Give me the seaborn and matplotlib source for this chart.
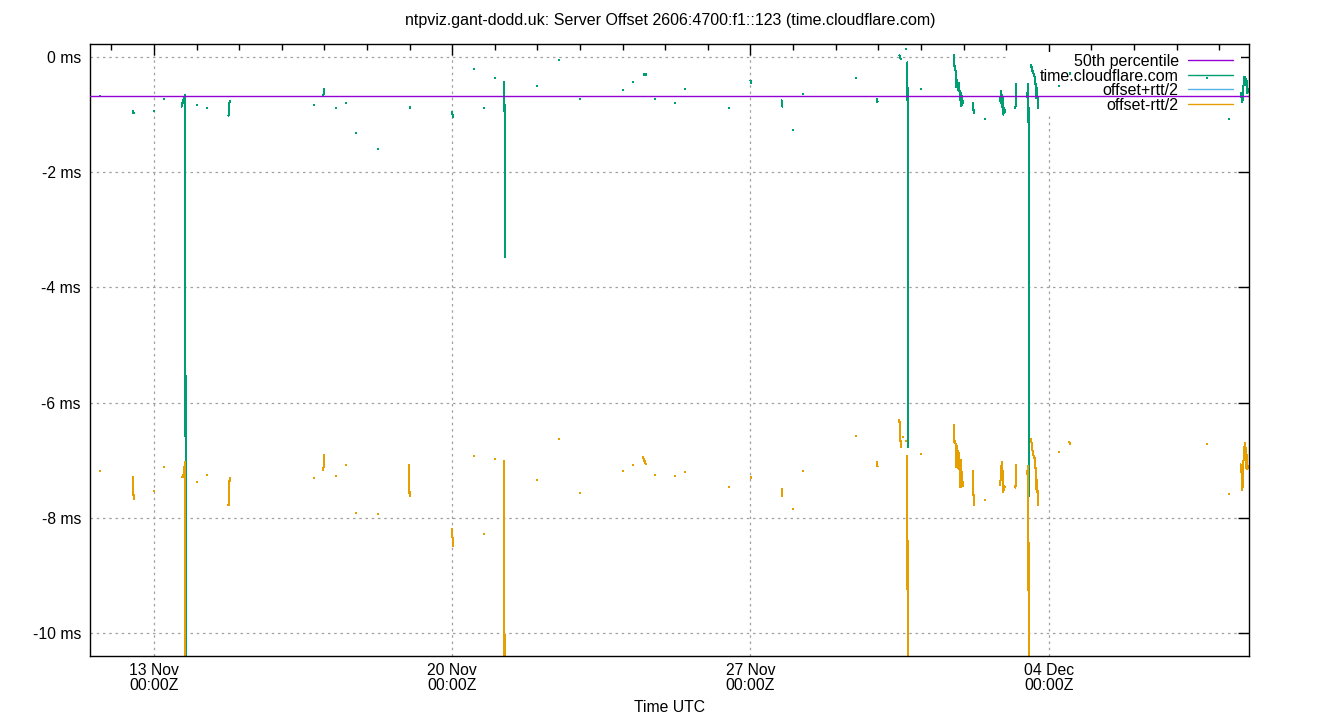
import pandas as pd
import seaborn as sns
import matplotlib.pyplot as plt
import matplotlib.dates as mdates
from matplotlib.ticker import FixedLocator
from matplotlib.lines import Line2D
from matplotlib.patches import Rectangle

title = "ntpviz.gant-dodd.uk: Server Offset 2606:4700:f1::123 (time.cloudflare.com)"
start = pd.Timestamp("2023-11-13 00:00")

# days after 13 Nov 00:00Z; None = gap in the samples
t_day = [
    -1.258, None,
    -0.502, -0.477, None,
    -0.007, None,
    0.244, None,
    0.646, 0.669, 0.692, 0.716, 0.735, 0.751, None,
    1.002, None,
    1.254, None,
    1.749, 1.775, None,
    3.749, None,
    3.974, 4.000, None,
    4.263, None,
    4.498, None,
    4.732, None,
    5.254, None,
    5.974, 6.000, None,
    6.993, 7.019, None,
    7.505, None,
    7.739, None,
    8.000, None,
    8.223, 8.246, None,
    8.991, None,
    9.505, None,
    10.000, None,
    11.009, None,
    11.244, None,
    11.479, 11.540, None,
    11.756, None,
    12.235, None,
    12.469, None,
    13.486, None,
    14.000, 14.012, None,
    14.730, 14.746, None,
    14.991, None,
    15.225, None,
    16.486, None,
    16.965, 16.981, None,
    17.495, 17.528, None,
    17.568, None,
    17.638, None,
    17.683, 17.707, None,
    17.993, None,
    18.779, 18.789, 18.822, 18.831, 18.854, 18.873, 18.897, 18.915, 18.934, 18.951, 18.967, 18.979, None,
    19.216, 19.242, None,
    19.502, None,
    19.859, 19.873, 19.887, 19.906, 19.920, 19.934, 19.953, 19.967, None,
    20.218, 20.242, None,
    20.493, 20.509, 20.523, 20.547, None,
    20.587, 20.610, 20.634, 20.662, 20.685, 20.704, 20.728, 20.746, None,
    21.242, None,
    21.479, 21.502, None,
    24.718, None,
    25.242, None,
    25.502, 25.523, 25.545, 25.563, 25.587, 25.615, 25.629, 25.641, 25.657, 25.692,
]

offset_ms = [
    -0.68, None,
    -0.94, -0.98, None,
    -0.94, None,
    -0.73, None,
    -0.86, -0.80, -0.74, -0.68, -0.66, -20.0, None,
    -0.84, None,
    -0.89, None,
    -1.02, -0.76, None,
    -0.84, None,
    -0.67, -0.55, None,
    -0.89, None,
    -0.79, None,
    -1.32, None,
    -1.60, None,
    -0.86, -0.86, None,
    -0.95, -1.04, None,
    -0.21, None,
    -0.89, None,
    -0.37, None,
    -0.43, -3.48, None,
    -0.51, None,
    -0.06, None,
    -0.73, None,
    -0.58, None,
    -0.44, None,
    -0.30, -0.30, None,
    -0.73, None,
    -0.79, None,
    -0.56, None,
    -0.89, None,
    -0.41, -0.46, None,
    -0.75, -0.86, None,
    -1.26, None,
    -0.65, None,
    -0.37, None,
    -0.73, -0.78, None,
    0.03, -0.04, None,
    0.30, None,
    0.14, None,
    -0.09, -6.77, None,
    -0.56, None,
    0.03, -0.18, -0.26, -0.52, -0.40, -0.57, -0.45, -0.75, -0.62, -0.85, -0.68, -0.80, None,
    -0.80, -0.97, None,
    -1.08, None,
    -0.71, -0.80, -0.59, -0.87, -0.70, -1.00, -0.88, -0.95, None,
    -0.89, -0.47, None,
    -0.69, -0.55, -0.46, -7.63, None,
    -0.14, -0.23, -0.26, -0.33, -0.40, -0.71, -0.54, -0.89, None,
    -0.50, None,
    -0.28, -0.28, None,
    -0.37, None,
    -1.08, None,
    -0.62, -0.70, -0.78, -0.57, -0.35, -0.34, -0.49, -0.40, -0.63, -0.55,
]

rtt_ms = [
    13.00, None,
    12.70, 13.38, None,
    13.20, None,
    12.78, None,
    12.88, 13.00, 13.02, 12.88, 12.74, 50.0, None,
    13.08, None,
    12.74, None,
    13.52, 13.10, None,
    12.94, None,
    13.00, 12.72, None,
    12.78, None,
    12.60, None,
    13.20, None,
    12.68, None,
    12.44, 13.54, None,
    14.48, 14.90, None,
    13.44, None,
    14.80, None,
    13.22, None,
    13.16, 53.0, None,
    13.68, None,
    13.16, None,
    13.68, None,
    13.20, None,
    13.30, None,
    13.30, 13.54, None,
    13.06, None,
    12.98, None,
    13.30, None,
    13.16, None,
    13.78, 13.68, None,
    13.50, 13.52, None,
    13.18, None,
    13.08, None,
    12.42, None,
    12.60, 12.66, None,
    12.66, 13.46, None,
    13.80, None,
    13.62, None,
    13.66, 46.5, None,
    12.68, None,
    12.84, 13.04, 12.92, 13.20, 12.70, 13.14, 12.86, 13.44, 12.76, 13.24, 13.04, 13.30, None,
    12.78, 13.62, None,
    13.24, None,
    13.44, 13.02, 13.06, 12.32, 13.18, 13.10, 13.14, 13.04, None,
    13.18, 13.22, None,
    13.10, 13.14, 13.28, 44.7, None,
    12.98, 13.14, 13.28, 13.24, 13.26, 13.58, 13.62, 13.78, None,
    12.70, None,
    12.80, 12.88, None,
    12.70, None,
    13.02, None,
    12.90, 13.00, 13.48, 13.08, 12.90, 12.72, 13.30, 13.00, 13.04, 13.10,
]

p50_ms = -0.68
y_ticks = [0, -2, -4, -6, -8, -10]
x_major = ["2023-11-13", "2023-11-20", "2023-11-27", "2023-12-04"]
labels = ["50th percentile", "time.cloudflare.com", "offset+rtt/2", "offset-rtt/2"]
colors = ["#9400d3", "#009e73", "#56b4e9", "#e69f00"]

assert len(t_day) == len(offset_ms) == len(rtt_ms)

df = pd.DataFrame({"day": t_day, "offset": offset_ms, "rtt": rtt_ms}, dtype=float)
df["seg"] = df["day"].isna().cumsum()
df = df.dropna().copy()
df["time"] = start + pd.to_timedelta(df["day"], unit="D")
df["hi"] = df["offset"] + df["rtt"] / 2
df["lo"] = df["offset"] - df["rtt"] / 2
n = df.groupby("seg")["day"].transform("size")
lines = df[n > 1]
dots = df[n == 1]

sns.set_theme(style="white", rc={
    "axes.edgecolor": "black", "text.color": "black", "axes.labelcolor": "black",
    "xtick.color": "black", "ytick.color": "black", "axes.linewidth": 1.0,
})
plt.rcParams["font.family"] = ["Liberation Sans", "DejaVu Sans"]
plt.rcParams["font.size"] = 11.3

fig = plt.figure(figsize=(13.4, 7.2), dpi=100)
ax = fig.add_axes([90 / 1340, 64 / 720, 1159 / 1340, 612 / 720])

for col, c in zip(["offset", "hi", "lo"], colors[1:]):
    sns.lineplot(data=lines, x="time", y=col, units="seg", estimator=None, sort=False,
                 color=c, lw=0.75, ax=ax, legend=False, zorder=2, antialiased=False)
    sns.scatterplot(data=dots, x="time", y=col, color=c, marker="s", s=2.5,
                    linewidth=0, ax=ax, legend=False, zorder=2)

ax.axhline(p50_ms, color=colors[0], lw=1.0, zorder=3)

ax.set_xlim(start - pd.Timedelta(days=1.502), start + pd.Timedelta(days=25.70))
ax.set_ylim(-10.40, 0.226)

ax.set_yticks(y_ticks, labels=[f"{v} ms" for v in y_ticks])
ax.xaxis.set_major_locator(FixedLocator(mdates.date2num(pd.to_datetime(x_major))))
ax.xaxis.set_minor_locator(mdates.DayLocator())
ax.xaxis.set_major_formatter(mdates.DateFormatter("%d %b\n%H:%MZ"))
ax.tick_params(which="both", direction="in", top=True, right=True, labelsize=11.3)
ax.tick_params(which="major", length=8, width=1, pad=5)
ax.tick_params(axis="y", which="major", pad=6.5)
ax.tick_params(which="minor", length=4, width=1)
for lab in ax.get_xticklabels():
    lab.set_linespacing(1.0)
ax.set_xlabel("Time UTC", fontsize=11.3, labelpad=5)
ax.set_ylabel("")

ax.set_axisbelow(True)
ax.grid(True, which="major", color="#a0a0a0", linestyle=(0, (2, 3)), lw=0.9)
# key area is kept clear of grid lines
ax.add_patch(Rectangle((0.792, 0.887), 0.201, 0.100, transform=ax.transAxes,
                       facecolor="white", edgecolor="none", zorder=1))

handles = [Line2D([], [], color=c, lw=1.0) for c in colors]
ax.legend(handles, labels, loc="upper right", bbox_to_anchor=((1233 - 90) / 1159, (656 - 54) / 612),
          frameon=False, markerfirst=False, handlelength=2.8, handletextpad=0.6,
          labelspacing=-0.03, borderpad=0, borderaxespad=0, fontsize=11.5)

fig.text(0.5, 1 - 21 / 720, title, ha="center", va="center", fontsize=11.5)

fig.savefig("out.png", dpi=100)
